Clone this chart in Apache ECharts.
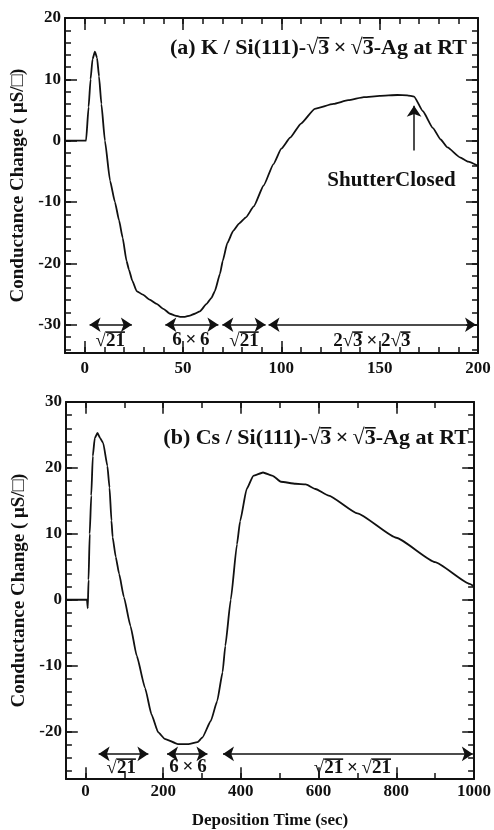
<!DOCTYPE html>
<html><head><meta charset="utf-8">
<script src="https://cdn.jsdelivr.net/npm/echarts@6/dist/echarts.min.js"></script>
<style>html,body{margin:0;padding:0;background:#fff}#c{width:494px;height:830px}</style>
</head><body><div id="c"></div>
<script>
// ---- Panel (a): K deposition ----
const kTime = [-10, 0.7, 2, 3, 4, 5.2, 6.3, 7.3, 8.5, 10.3, 12.9, 15.4, 17.5, 19.3, 21.3, 22.5, 24.2, 26.4, 29.6, 33, 36.6, 40, 43.4, 46, 48.5, 51, 53.5, 56, 58.6, 62, 64.5, 66.2, 68.8, 70.2, 72.5, 75.5, 78.5, 82, 86, 91, 96, 100, 104.5, 110, 117, 126.5, 134, 142, 150, 159, 164, 167.5, 172, 177, 181, 184.5, 190.8, 195, 200];
const kCond = [0, 0, 5.5, 10, 13.3, 14.5, 13.5, 10.5, 6, 0, -6.5, -10, -13, -15.8, -19.6, -21, -22.8, -24.5, -25.1, -25.9, -26.6, -27.4, -28.2, -28.5, -28.7, -28.7, -28.5, -28.2, -27.8, -26.6, -25.6, -24.5, -21.7, -19.6, -16.7, -14.7, -13.5, -12.5, -10.7, -7.3, -3.8, -1.3, 0.5, 2.8, 5.2, 6.0, 6.6, 7.1, 7.3, 7.45, 7.4, 7.2, 4.8, 2.1, 0.2, -1.1, -2.7, -3.4, -4.1];
const kBandStart = [2.5, 41, 70, 93.5];
const kBandEnd = [24, 68, 92, 199];
const kBandLevel = -30;
// label pieces alternate: plain, overlined, plain, overlined ...
const kBandLabels = [['√', '21'], ['6\u2009×\u20096'], ['√', '21'], ['2√', '3', '\u2009×\u20092√', '3']];
const kBandLabelX = [13, 54, 81, 146];
const kBandLabelY = -32.5;
const kXTickLabels = [0, 50, 100, 150, 200];
const kXMinor = [0, 10, 20, 30, 40, 50, 60, 70, 80, 90, 100, 110, 120, 130, 140, 150, 160, 170, 180, 190, 200];
const kYTickLabels = [-30, -20, -10, 0, 10, 20];
const kYMinor = [-34, -32, -30, -28, -26, -24, -22, -20, -18, -16, -14, -12, -10, -8, -6, -4, -2, 0, 2, 4, 6, 8, 10, 12, 14, 16, 18, 20];
const kXRange = [-10, 200];
const kYRange = [-34.6, 20];
const shutterArrow = [[167.5, -1.6], [167.5, 5.7]];
const shutterText = [156, -6.5, 'ShutterClosed'];

// ---- Panel (b): Cs deposition ----
const csTime = [-50, 0, 4, 6, 8, 11, 15, 19, 24, 31, 38, 45.6, 56.5, 62, 67, 70, 78, 86.8, 99, 116, 132, 153.5, 170, 187, 204, 238, 265, 288.6, 301, 322.6, 339, 353, 360, 374, 390, 398, 415, 432, 457, 482, 503, 541, 567, 592, 626, 700, 800, 900, 989, 1000];
const csCond = [0, 0, 0, -1.3, 3, 10, 15.8, 21.8, 24.5, 25.3, 24.5, 23.8, 20.3, 17, 12, 9.5, 6.5, 3.9, 0.4, -4, -8.5, -13.4, -17.4, -20.1, -21.1, -21.9, -21.9, -21.6, -20.9, -18.4, -15.4, -11, -7, 0, 8.4, 11.9, 16.8, 18.8, 19.3, 18.8, 17.9, 17.6, 17.5, 16.8, 15.8, 13.1, 9.4, 5.7, 2.4, 2.0];
const csBandStart = [34, 210, 354];
const csBandEnd = [162, 314, 997];
const csBandLevel = -23.4;
const csBandLabels = [['√', '21'], ['6\u2009×\u20096'], ['√', '21', '\u2009×\u2009√', '21']];
const csBandLabelX = [92, 264, 687];
const csBandLabelY = -25.4;
const csXTickLabels = [0, 200, 400, 600, 800, 1000];
const csXMinor = [0, 100, 200, 300, 400, 500, 600, 700, 800, 900, 1000];
const csYTickLabels = [-20, -10, 0, 10, 20, 30];
const csYMinor = [-26, -24, -22, -20, -18, -16, -14, -12, -10, -8, -6, -4, -2, 0, 2, 4, 6, 8, 10, 12, 14, 16, 18, 20, 22, 24, 26, 28, 30];
const csXRange = [-50, 1000];
const csYRange = [-27.2, 30];

const titleA = ['(a) K / Si(111)-√', '3', '\u2009×\u2009√', '3', '-Ag at RT'];
const titleB = ['(b) Cs / Si(111)-√', '3', '\u2009×\u2009√', '3', '-Ag at RT'];
const yName = 'Conductance Change ( μS/□)';
const xName = 'Deposition Time (sec)';

const FONT = '"Liberation Serif", "Times New Roman", serif';
const BLACK = '#111';
const GRID_A = { left: 65, width: 413, top: 18, height: 335 };
const GRID_B = { left: 66, width: 414, top: 402, height: 384 };

const mctx = document.createElement('canvas').getContext('2d');
function textWidth(s, size) {
  mctx.font = 'bold ' + size + 'px ' + FONT;
  return mctx.measureText(s).width;
}
// Two-line rich text: a thin bar line above the overlined pieces, then the text itself.
function overText(pieces, size) {
  const rich = {
    n: { fontFamily: FONT, fontWeight: 'bold', fontSize: size, color: BLACK, lineHeight: Math.round(size * 0.85), align: 'left' }
  };
  let top = '';
  let hasBar = false;
  pieces.forEach((p, i) => {
    const key = (i % 2 ? 'b' : 's') + i;
    rich[key] = { width: textWidth(p, size), height: 1.6, lineHeight: 1.6, fontSize: 2, align: 'left' };
    if (i % 2) { rich[key].backgroundColor = BLACK; hasBar = true; }
    top += '{' + key + '|}';
  });
  const text = (hasBar ? top + '\n' : '') + '{n|' + pieces.join('') + '}';
  return { text: text, rich: rich };
}

function zip(a, b) { return a.map((v, i) => [v, b[i]]); }

function xAxisDef(gi, range, labels, pos, withLabel, name) {
  return {
    gridIndex: gi, type: 'value', min: range[0], max: range[1], position: pos, splitLine: { show: false },
    axisLine: { show: true, onZero: false, lineStyle: { color: BLACK, width: 2 } },
    axisTick: { show: false },
    axisLabel: withLabel ? { show: true, customValues: labels, formatter: v => String(v), margin: gi === 0 ? 7 : 4, color: BLACK, fontFamily: FONT, fontWeight: 'bold', fontSize: 17 } : { show: false },
    name: name || '', nameLocation: 'middle', nameGap: 33,
    nameTextStyle: { color: BLACK, fontFamily: FONT, fontWeight: 'bold', fontSize: 17 }
  };
}
function yAxisDef(gi, range, labels, pos, withLabel) {
  return {
    gridIndex: gi, type: 'value', min: range[0], max: range[1], position: pos, splitLine: { show: false },
    axisLine: { show: true, onZero: false, lineStyle: { color: BLACK, width: 2 } },
    axisTick: { show: false },
    axisLabel: withLabel ? { show: true, customValues: labels, margin: 4, color: BLACK, fontFamily: FONT, fontWeight: 'bold', fontSize: 17 } : { show: false },
    name: withLabel ? yName : '', nameLocation: 'middle', nameGap: 32, nameRotate: 90,
    nameTextStyle: { color: BLACK, fontFamily: FONT, fontWeight: 'bold', fontSize: 19 }
  };
}

const xAxis = [
  xAxisDef(0, kXRange, kXTickLabels, 'bottom', true),
  xAxisDef(0, kXRange, kXTickLabels, 'top', false),
  xAxisDef(1, csXRange, csXTickLabels, 'bottom', true, xName),
  xAxisDef(1, csXRange, csXTickLabels, 'top', false)
];
const yAxis = [
  yAxisDef(0, kYRange, kYTickLabels, 'left', true),
  yAxisDef(0, kYRange, kYTickLabels, 'right', false),
  yAxisDef(1, csYRange, csYTickLabels, 'left', true),
  yAxisDef(1, csYRange, csYTickLabels, 'right', false)
];

// Inward ticks on all four sides as markLine segments (coordinates through the axes).
function tickMarks(xr, yr, grid, xMinor, xMajor, yMinor, yMajor) {
  const xpp = (xr[1] - xr[0]) / grid.width;   // data units per pixel
  const ypp = (yr[1] - yr[0]) / grid.height;
  const out = [];
  function seg(a, b) {
    out.push([{ coord: a, symbol: 'none' }, { coord: b, symbol: 'none' }]);
  }
  function xt(list, L) {
    list.forEach(v => {
      seg([v, yr[0]], [v, yr[0] + L * ypp]);
      seg([v, yr[1]], [v, yr[1] - L * ypp]);
    });
  }
  function yt(list, L) {
    list.forEach(v => {
      seg([xr[0], v], [xr[0] + L * xpp, v]);
      seg([xr[1], v], [xr[1] - L * xpp, v]);
    });
  }
  xt(xMinor, 6); xt(xMajor, 12);
  yt(yMinor, 6); yt(yMajor, 12);
  return out;
}

const arrowLine = { color: BLACK, width: 1.5, type: 'solid' };
function bandMarks(starts, ends, level) {
  return starts.map((s, i) => [{ coord: [s, level] }, { coord: [ends[i], level] }]);
}
function labelItems(xs, y, pieceList, size) {
  return pieceList.map((pieces, i) => {
    const t = overText(pieces, size);
    return {
      value: [xs[i], y],
      label: { show: true, position: 'inside', formatter: t.text, rich: t.rich, color: BLACK, fontFamily: FONT, fontWeight: 'bold', fontSize: size }
    };
  });
}
const tA = overText(titleA, 22);
const tB = overText(titleB, 22);

const option = {
  animation: false,
  backgroundColor: '#fff',
  title: [
    { text: tA.text, right: 22, top: 32, textStyle: { color: BLACK, fontFamily: FONT, fontWeight: 'bold', fontSize: 22, rich: tA.rich } },
    { text: tB.text, right: 20, top: 422, textStyle: { color: BLACK, fontFamily: FONT, fontWeight: 'bold', fontSize: 22, rich: tB.rich } }
  ],
  grid: [GRID_A, GRID_B],
  xAxis: xAxis,
  yAxis: yAxis,
  series: [
    {
      type: 'line', xAxisIndex: 0, yAxisIndex: 0, data: zip(kTime, kCond),
      showSymbol: false, smooth: 0.15, smoothMonotone: 'x',
      lineStyle: { color: BLACK, width: 1.8 },
      markLine: {
        silent: true, symbol: ['arrow', 'arrow'], symbolSize: 11, precision: 3,
        lineStyle: arrowLine, label: { show: false },
        data: bandMarks(kBandStart, kBandEnd, kBandLevel)
          .concat([[{ coord: shutterArrow[0], symbol: 'none' }, { coord: shutterArrow[1], symbol: 'arrow' }]])
          .concat(tickMarks(kXRange, kYRange, GRID_A, kXMinor, kXTickLabels, kYMinor, kYTickLabels))
      }
    },
    {
      type: 'scatter', xAxisIndex: 0, yAxisIndex: 0, symbolSize: 0, silent: true,
      itemStyle: { opacity: 1 },
      data: labelItems(kBandLabelX, kBandLabelY, kBandLabels, 19)
        .concat(labelItems([shutterText[0]], shutterText[1], [[shutterText[2]]], 21))
    },
    {
      type: 'line', xAxisIndex: 2, yAxisIndex: 2, data: zip(csTime, csCond),
      showSymbol: false, smooth: 0.15, smoothMonotone: 'x',
      lineStyle: { color: BLACK, width: 1.8 },
      markLine: {
        silent: true, symbol: ['arrow', 'arrow'], symbolSize: 11, precision: 3,
        lineStyle: arrowLine, label: { show: false },
        data: bandMarks(csBandStart, csBandEnd, csBandLevel)
          .concat(tickMarks(csXRange, csYRange, GRID_B, csXMinor, csXTickLabels, csYMinor, csYTickLabels))
      }
    },
    {
      type: 'scatter', xAxisIndex: 2, yAxisIndex: 2, symbolSize: 0, silent: true,
      itemStyle: { opacity: 1 },
      data: labelItems(csBandLabelX, csBandLabelY, csBandLabels, 19)
    }
  ]
};
const chart = echarts.init(document.getElementById('c'), null, { renderer: 'canvas' });
chart.setOption(option);
</script>
</body></html>
